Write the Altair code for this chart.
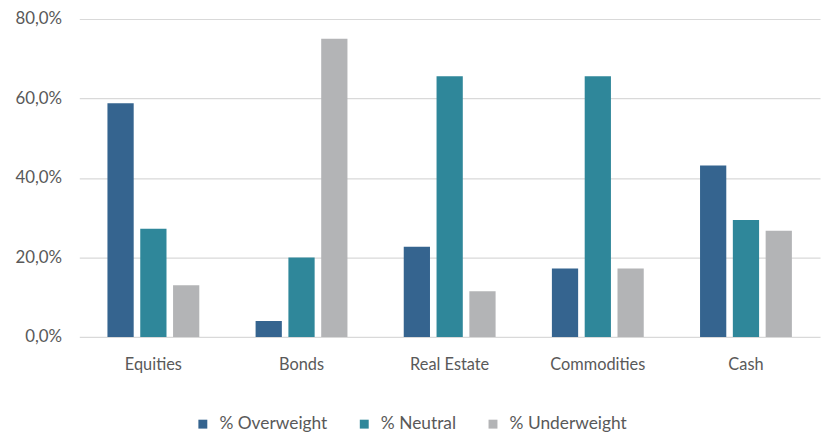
import altair as alt
import pandas as pd

categories = ["Equities", "Bonds", "Real Estate", "Commodities", "Cash"]
series = ["% Overweight", "% Neutral", "% Underweight"]
overweight = [0.588, 0.040, 0.227, 0.172, 0.431]
neutral = [0.272, 0.200, 0.656, 0.656, 0.294]
underweight = [0.130, 0.750, 0.115, 0.172, 0.267]
colors = ["#35648F", "#2F879A", "#B3B4B6"]

rows = []
for i, c in enumerate(categories):
    for s, vals in zip(series, [overweight, neutral, underweight]):
        rows.append({"category": c, "series": s, "value": vals[i]})
df = pd.DataFrame(rows)

FONT = "Lato"
TXT = "#595959"

chart = alt.Chart(df).mark_bar().encode(
    x=alt.X("category:N", sort=categories, title=None,
            scale=alt.Scale(paddingInner=0.38, paddingOuter=0.19),
            axis=alt.Axis(labelAngle=0, domain=False, ticks=False, labelPadding=20,
                          labelFontSize=16.5, labelColor=TXT, labelFont=FONT)),
    xOffset=alt.XOffset("series:N", sort=series, scale=alt.Scale(paddingInner=0.2)),
    y=alt.Y("value:Q", title=None,
            scale=alt.Scale(domain=[0, 0.8], nice=False),
            axis=alt.Axis(values=[0, 0.2, 0.4, 0.6, 0.8], domain=False, ticks=False,
                          labelExpr="replace(format(datum.value, '.1%'), '.', ',')",
                          labelPadding=18, labelFontSize=17, labelColor=TXT, labelFont=FONT,
                          gridColor="#D9D9D9", gridWidth=1.2)),
    color=alt.Color("series:N", sort=series,
                    scale=alt.Scale(domain=series, range=colors),
                    legend=alt.Legend(title=None, orient="none", direction="horizontal",
                                      legendX=116, legendY=400,
                                      symbolType="square", symbolSize=81,
                                      symbolStrokeWidth=0, labelOffset=8,
                                      columnPadding=28, labelFontSize=17.5,
                                      labelColor=TXT, labelFont=FONT)),
).properties(
    width=748, height=321,
    autosize=alt.AutoSizeParams(type="none"),
    padding={"left": 72, "top": 9, "right": 4, "bottom": 100},
).configure_view(stroke=None)

chart.save("out.html", embed_options={"renderer": "svg", "actions": False})
